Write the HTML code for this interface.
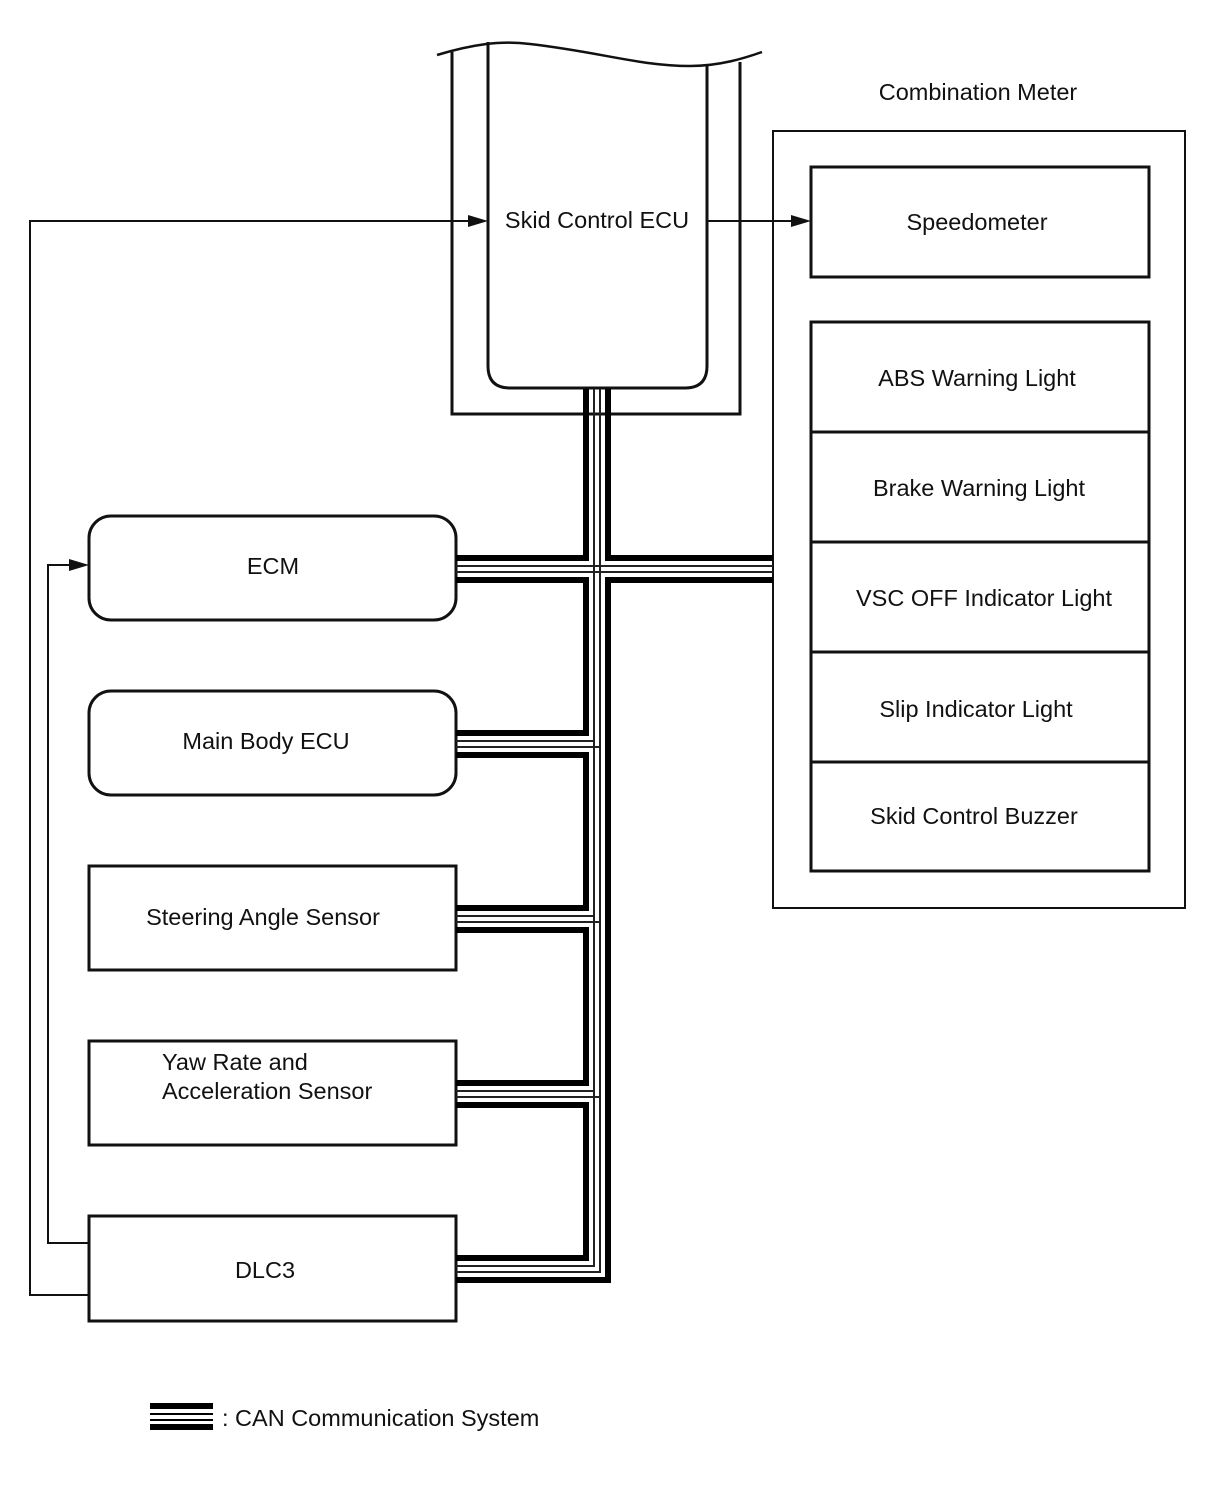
<!DOCTYPE html>
<html><head><meta charset="utf-8"><style>
html,body{margin:0;padding:0;background:#fff;}
svg{display:block;}
text{font-family:"Liberation Sans",Arial,sans-serif;font-size:23.5px;fill:#111;}
</style></head><body>
<svg width="1210" height="1498" viewBox="0 0 1210 1498" xmlns="http://www.w3.org/2000/svg">
<g fill="none" stroke="#111" stroke-width="3">
  <path d="M437,55 C470,45 500,40 530,44 C600,52 640,66 690,66 C720,66 745,58 762,52" stroke-width="2.5"/>
  <path d="M452,52 V414 H740 V62"/>
  <path d="M488,42 V366 Q488,388 510,388 H685 Q707,388 707,366 V64"/>
  <rect x="773" y="131" width="412" height="777" stroke-width="2"/>
  <rect x="811" y="167" width="338" height="110"/>
  <rect x="811" y="322" width="338" height="549"/>
  <path d="M811,432 H1149 M811,542 H1149 M811,652 H1149 M811,762 H1149"/>
  <rect x="89" y="516" width="367" height="104" rx="22"/>
  <rect x="89" y="691" width="367" height="104" rx="22"/>
  <rect x="89" y="866" width="367" height="104"/>
  <rect x="89" y="1041" width="367" height="104"/>
  <rect x="89" y="1216" width="367" height="105"/>
  <path d="M89,1295 H30 V221 H470" stroke-width="2"/>
  <path d="M89,1243 H48 V565 H70" stroke-width="2"/>
  <path d="M707,221 H793" stroke-width="2"/>
</g>
<g fill="#111">
  <polygon points="488,221 468,215 468,227"/>
  <polygon points="89,565 69,559 69,571"/>
  <polygon points="811,221 791,215 791,227"/>
</g>
<g fill="none" stroke="#000" stroke-width="6" stroke-linejoin="miter">
  <path d="M586,389 V558 H456"/>
  <path d="M456,580 H586 V733 H456"/>
  <path d="M456,755 H586 V908 H456"/>
  <path d="M456,930 H586 V1083 H456"/>
  <path d="M456,1105 H586 V1258 H456"/>
  <path d="M608,389 V558 H773"/>
  <path d="M773,580 H608 V1280 H456"/>
</g>
<g fill="none" stroke="#222" stroke-width="2">
  <path d="M594,389 V1266 H456"/>
  <path d="M600,389 V1272 H456"/>
  <path d="M456,566 H773 M456,572 H773"/>
  <path d="M456,741 H594 M456,747 H600"/>
  <path d="M456,916 H594 M456,922 H600"/>
  <path d="M456,1091 H594 M456,1097 H600"/>
</g>
<g stroke="#000">
  <path d="M150,1406 H213 M150,1427 H213" stroke-width="6"/>
  <path d="M150,1414 H213 M150,1420 H213" stroke-width="2"/>
</g>
<text x="222" y="1426">: CAN Communication System</text>
<text x="978" y="100" text-anchor="middle">Combination Meter</text>
<text x="597" y="228" text-anchor="middle">Skid Control ECU</text>
<text x="977" y="230" text-anchor="middle">Speedometer</text>
<text x="977" y="386" text-anchor="middle">ABS Warning Light</text>
<text x="979" y="496" text-anchor="middle">Brake Warning Light</text>
<text x="984" y="606" text-anchor="middle">VSC OFF Indicator Light</text>
<text x="976" y="717" text-anchor="middle">Slip Indicator Light</text>
<text x="974" y="824" text-anchor="middle">Skid Control Buzzer</text>
<text x="273" y="574" text-anchor="middle">ECM</text>
<text x="266" y="749" text-anchor="middle">Main Body ECU</text>
<text x="263" y="925" text-anchor="middle">Steering Angle Sensor</text>
<text x="162" y="1070">Yaw Rate and</text>
<text x="162" y="1099">Acceleration Sensor</text>
<text x="265" y="1278" text-anchor="middle">DLC3</text>
</svg>
</body></html>
